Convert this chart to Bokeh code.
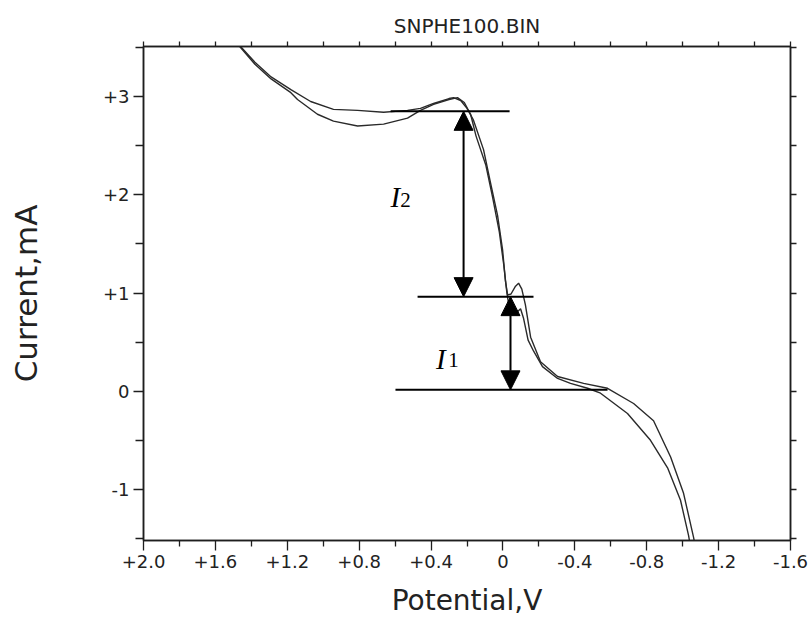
from bokeh.plotting import figure
from bokeh.models import (Range1d, LinearAxis, FixedTicker, Arrow, NormalHead,
                          CustomJSTickFormatter)
from bokeh.embed import file_html
from bokeh.resources import INLINE
from bokeh.core.properties import value

# ---- data ----
title_text = "SNPHE100.BIN"
x_label = "Potential,V"
y_label = "Current,mA"

x_ticks = [2.0, 1.6, 1.2, 0.8, 0.4, 0.0, -0.4, -0.8, -1.2, -1.6]
x_tick_labels = ["+2.0", "+1.6", "+1.2", "+0.8", "+0.4", "0", "-0.4", "-0.8", "-1.2", "-1.6"]
x_minor = [1.8, 1.4, 1.0, 0.6, 0.2, -0.2, -0.6, -1.0, -1.4]
top_ticks = [2.0, 1.8, 1.6, 1.4, 1.2, 1.0, 0.8, 0.6, 0.4, 0.2, 0.0,
             -0.2, -0.4, -0.6, -0.8, -1.0, -1.2, -1.4, -1.6]
y_ticks = [3, 2, 1, 0, -1]
y_tick_labels = ["+3", "+2", "+1", "0", "-1"]
y_minor = [3.5, 2.5, 1.5, 0.5, -0.5, -1.5]
right_ticks = [3.5, 3.0, 2.5, 2.0, 1.5, 1.0, 0.5, 0.0, -0.5, -1.0, -1.5]

# scan 1 (upper plateau)
va = [1.50, 1.46, 1.38, 1.29, 1.18, 1.07, 0.943, 0.809, 0.664, 0.531, 0.459, 0.386,
      0.30, 0.275, 0.235, 0.20, 0.164, 0.108, 0.069, 0.030, 0.002, -0.014, -0.026,
      -0.045, -0.07, -0.087, -0.105, -0.125, -0.154, -0.209, -0.304, -0.449, -0.582,
      -0.727, -0.838, -0.933, -1.005, -1.061, -1.072]
ia = [3.58, 3.51, 3.35, 3.20, 3.07, 2.95, 2.87, 2.86, 2.84, 2.86, 2.88, 2.93,
      2.98, 2.99, 2.96, 2.88, 2.76, 2.46, 2.12, 1.79, 1.44, 1.12, 0.98,
      0.99, 1.07, 1.10, 1.04, 0.88, 0.55, 0.30, 0.15, 0.08, 0.03,
      -0.125, -0.30, -0.67, -1.04, -1.49, -1.60]
# scan 2 (lower plateau)
vb = [1.50, 1.46, 1.38, 1.29, 1.18, 1.143, 1.032, 0.943, 0.809, 0.664, 0.531, 0.459,
      0.386, 0.30, 0.253, 0.215, 0.18, 0.15, 0.095, 0.058, 0.020, -0.005, -0.022,
      -0.035, -0.05, -0.075, -0.098, -0.115, -0.14, -0.17, -0.22, -0.304, -0.376,
      -0.471, -0.543, -0.693, -0.821, -0.916, -0.988, -1.033, -1.045]
ib = [3.58, 3.50, 3.33, 3.18, 3.04, 2.97, 2.82, 2.75, 2.70, 2.72, 2.78, 2.86,
      2.92, 2.97, 2.99, 2.94, 2.82, 2.60, 2.30, 1.98, 1.62, 1.28, 1.00,
      0.85, 0.78, 0.80, 0.84, 0.74, 0.52, 0.41, 0.25, 0.13, 0.08,
      0.03, -0.02, -0.227, -0.50, -0.78, -1.11, -1.47, -1.60]

# annotation: level lines and arrows
level_y = [2.85, 0.963, 0.014]
level_x0 = [0.625, 0.475, 0.598]
level_x1 = [-0.037, -0.17, -0.582]
i2_x = 0.219
i1_x = -0.042

FONT = "DejaVu Sans"
INK = "#1e1e1e"

p = figure(width=812, height=624, x_range=Range1d(2.0, -1.6), y_range=Range1d(-1.52, 3.51),
           output_backend="svg", toolbar_location=None,
           x_axis_location=None, y_axis_location=None)
p.min_border_left = 143
p.min_border_right = 22
p.min_border_top = 46
p.min_border_bottom = 84
p.xgrid.visible = False
p.ygrid.visible = False
p.outline_line_color = INK
p.outline_line_width = 1.5
p.background_fill_color = "white"
p.border_fill_color = "white"

p.title.text = title_text
p.title.align = "center"
p.title.text_font = FONT
p.title.text_font_size = "20px"
p.title.text_font_style = "normal"
p.title.text_color = "#222222"
p.title.standoff = 7

def style_axis(ax):
    ax.axis_line_color = INK
    ax.axis_line_width = 1.5
    ax.major_tick_line_color = INK
    ax.minor_tick_line_color = INK
    ax.major_tick_line_width = 1.3
    ax.minor_tick_line_width = 1.3
    ax.major_tick_in = 0
    ax.minor_tick_in = 0
    ax.major_label_text_font = FONT
    ax.major_label_text_color = "#222222"
    ax.axis_label_text_font = FONT
    ax.axis_label_text_font_style = "normal"
    ax.axis_label_text_color = "#222222"

fmt_code = """
const i = t.findIndex(v => Math.abs(v - tick) < 1e-6);
return i >= 0 ? l[i] : '';
"""
xfmt = CustomJSTickFormatter(args=dict(t=x_ticks, l=x_tick_labels), code=fmt_code)
yfmt = CustomJSTickFormatter(args=dict(t=y_ticks, l=y_tick_labels), code=fmt_code)

xb = LinearAxis(ticker=FixedTicker(ticks=x_ticks, minor_ticks=x_minor), formatter=xfmt,
                axis_label=x_label)
style_axis(xb)
xb.major_tick_out = 10
xb.minor_tick_out = 6
xb.major_label_text_font_size = "18px"
xb.major_label_standoff = 4
xb.axis_label_text_font_size = "28px"
xb.axis_label_standoff = 13
p.add_layout(xb, "below")

yl = LinearAxis(ticker=FixedTicker(ticks=y_ticks, minor_ticks=y_minor), formatter=yfmt,
                axis_label=y_label)
style_axis(yl)
yl.major_tick_out = 10
yl.minor_tick_out = 8
yl.major_label_text_font_size = "18px"
yl.major_label_standoff = 4
yl.axis_label_text_font_size = "31px"
yl.axis_label_standoff = 56
p.add_layout(yl, "left")

xt = LinearAxis(ticker=FixedTicker(ticks=top_ticks, minor_ticks=[]))
style_axis(xt)
xt.major_tick_out = 5
xt.major_label_text_font_size = "0px"
xt.major_label_standoff = 0
p.add_layout(xt, "above")

yr = LinearAxis(ticker=FixedTicker(ticks=right_ticks, minor_ticks=[]))
style_axis(yr)
yr.major_tick_out = 6
yr.major_label_text_font_size = "0px"
yr.major_label_standoff = 0
p.add_layout(yr, "right")

# curves
p.line(va, ia, line_color="#2a2a2a", line_width=1.4)
p.line(vb, ib, line_color="#2a2a2a", line_width=1.4)

# level lines
p.segment(x0=level_x0, y0=level_y, x1=level_x1, y1=level_y, line_color="black", line_width=2)

# arrows
for xa, y0, y1 in [(i2_x, level_y[0], level_y[1]), (i1_x, level_y[1], level_y[2])]:
    p.add_layout(Arrow(x_start=xa, y_start=y0, x_end=xa, y_end=y1, line_width=2,
                       line_color="black",
                       start=NormalHead(size=19, fill_color="black", line_color="black"),
                       end=NormalHead(size=19, fill_color="black", line_color="black")))

# labels I2, I1
p.text(x=[0.625, 0.372], y=[1.98, 0.333], text=["I", "I"],
       text_font=value("Liberation Serif"), text_font_style="italic",
       text_font_size="29px", text_color="black", text_align="left", text_baseline="alphabetic")
p.text(x=[0.572, 0.305], y=[1.95, 0.32], text=["2", "1"],
       text_font=value("Liberation Serif"), text_font_size="21px",
       text_color="black", text_align="left", text_baseline="alphabetic")

open("out.html", "w").write(file_html(p, INLINE))
